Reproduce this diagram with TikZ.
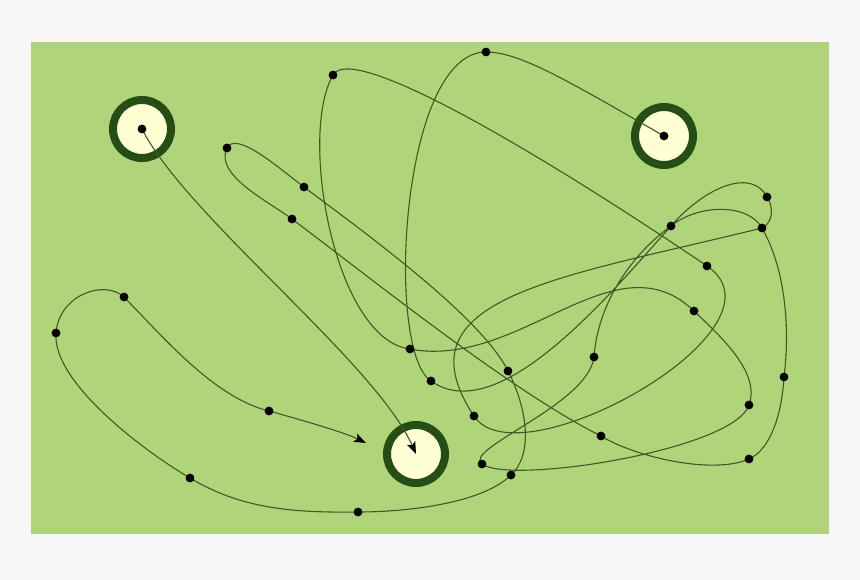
\documentclass[tikz,border=0pt]{standalone}
\usetikzlibrary{arrows.meta}
\definecolor{pagebg}{HTML}{F6F6F6}
\definecolor{field}{HTML}{B0D47A}
\definecolor{ringc}{HTML}{254D14}
\definecolor{hole}{HTML}{FFFFD6}
\definecolor{wirec}{HTML}{3B5B24}
\pgfdeclarelayer{bg}\pgfdeclarelayer{fg}\pgfsetlayers{bg,main,fg}
\tikzset{
  ring/.style={circle, draw=ringc, line width=8pt, fill=hole, minimum size=58pt, inner sep=0pt},
  dot/.style={circle, fill=black, minimum size=8.8pt, inner sep=0pt},
  wire/.style={draw=wirec, line width=1.1pt},
  tip/.style={-{Stealth[length=12pt,width=9pt,inset=2.5pt,color=black]}}
}
\begin{document}
\begin{tikzpicture}[x=1pt,y=-1pt]
\useasboundingbox (0,0) rectangle (860,580);
\begin{pgfonlayer}{bg}
\fill[pagebg] (0,0) rectangle (860,580);
\fill[field] (31,42) rectangle (829,534);
\node[ring] (c1) at (142,129) {};
\node[ring] (c2) at (664,136) {};
\node[ring] (c3) at (416,454) {};
\end{pgfonlayer}
\begin{pgfonlayer}{fg}
\node[dot] (s1) at (142,129) {};
\node[dot] (s2) at (664,136) {};
\node[dot] (da) at (486,52) {};
\node[dot] (db) at (431,381) {};
\node[dot] (dc) at (671,226) {};
\node[dot] (dd) at (767,197) {};
\node[dot] (de) at (762,228) {};
\node[dot] (df) at (474,416) {};
\node[dot] (dg) at (707,266) {};
\node[dot] (dh) at (333,75) {};
\node[dot] (di) at (410,349) {};
\node[dot] (dj) at (694,311) {};
\node[dot] (dk) at (749,405) {};
\node[dot] (dl) at (482,464) {};
\node[dot] (dm) at (594,357) {};
\node[dot] (dn) at (784,377) {};
\node[dot] (do) at (749,459) {};
\node[dot] (dp) at (601,436) {};
\node[dot] (dq) at (292,219) {};
\node[dot] (dr) at (227,148) {};
\node[dot] (ds) at (304,187) {};
\node[dot] (dt) at (508,371) {};
\node[dot] (du) at (511,475) {};
\node[dot] (dv) at (358,512) {};
\node[dot] (dw) at (190,478) {};
\node[dot] (dx) at (56,333) {};
\node[dot] (dy) at (124,297) {};
\node[dot] (dz) at (269,411) {};
\end{pgfonlayer}
\coordinate (end2) at (366,443);
% path from circle 1 to circle 3
\draw[wire,tip] (s1.center) .. controls (187,217) and (375,362) .. (c3.center);
% long path from circle 2
\draw[wire,tip] (s2.center) .. controls (568,81) and (520,52) .. (da.center)
 .. controls (400,52) and (385,352) .. (db.center)
 .. controls (500,430) and (615,288) .. (dc.center)
 .. controls (706,186) and (752,168) .. (dd.center)
 .. controls (774,207) and (773,223) .. (de.center)
 .. controls (560,278) and (395,297) .. (df.center)
 .. controls (518,484) and (798,328) .. (dg.center)
 .. controls (558,165) and (353,40) .. (dh.center)
 .. controls (298,136) and (335,340) .. (di.center)
 .. controls (520,370) and (615,235) .. (dj.center)
 .. controls (719,335) and (761,372) .. (dk.center)
 .. controls (734,450) and (510,485) .. (dl.center)
 .. controls (462,449) and (588,405) .. (dm.center)
 .. controls (598,300) and (635,252) .. (dc.center)
 .. controls (698,204) and (748,203) .. (de.center)
 .. controls (786,270) and (790,330) .. (dn.center)
 .. controls (782,412) and (771.5,449) .. (do.center)
 .. controls (713,475) and (635,457) .. (dp.center)
 .. controls (511,391) and (372,279) .. (dq.center)
 .. controls (268,201) and (214,175) .. (dr.center)
 .. controls (236,130) and (280,169) .. (ds.center)
 .. controls (368,235) and (481,317) .. (dt.center)
 .. controls (528,410) and (533,455) .. (du.center)
 .. controls (483,503) and (408,512) .. (dv.center)
 .. controls (290,513) and (240,508) .. (dw.center)
 .. controls (147,453) and (52,383) .. (dx.center)
 .. controls (59,295) and (104,279) .. (dy.center)
 .. controls (164,338) and (215,398) .. (dz.center)
 .. controls (298,419) and (343.5,432) .. (end2);
\end{tikzpicture}
\end{document}
